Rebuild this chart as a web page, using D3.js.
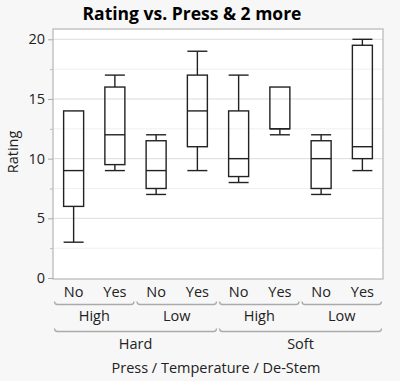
<!DOCTYPE html>
<html><head><meta charset="utf-8">
<script src="https://cdn.jsdelivr.net/npm/d3@7"></script>
<style>
html,body{margin:0;padding:0;background:#f7f7f7;}
svg{display:block;font-family:"Open Sans","Noto Sans",sans-serif;}
</style></head>
<body>
<svg id="c" width="400" height="381"></svg>
<script>
const press = ["Hard","Hard","Hard","Hard","Soft","Soft","Soft","Soft"];
const temperature = ["High","High","Low","Low","High","High","Low","Low"];
const destem = ["No","Yes","No","Yes","No","Yes","No","Yes"];
const whiskerLow = [3, 9, 7, 9, 8, 12, 7, 9];
const q1 = [6, 9.5, 7.5, 11, 8.5, 12.5, 7.5, 10];
const median = [9, 12, 9, 14, 10, 12.5, 10, 11];
const q3 = [14, 16, 11.5, 17, 14, 16, 11.5, 19.5];
const whiskerHigh = [14, 17, 12, 19, 17, 16, 12, 20];
const yTicks = [0, 5, 10, 15, 20];
const yMinor = [2.5, 7.5, 12.5, 17.5];

const svg = d3.select("#c");
const L = 53, R = 383, T = 29, B = 278;
const fs = 14.5;
const keys = destem.map((d,i)=>i);
const x = d3.scaleBand().domain(keys).range([L, R]).paddingInner(0).paddingOuter(0);
const y = d3.scaleLinear().domain([0, 20]).range([B, 39.3]);

// plot area
svg.append("rect").attr("x", L).attr("y", T).attr("width", R-L).attr("height", B+1-T)
  .attr("fill", "#fff");
// grid
svg.append("g").selectAll("line").data(yMinor).join("line")
  .attr("x1", L).attr("x2", R).attr("y1", d=>y(d)).attr("y2", d=>y(d))
  .attr("stroke", "#efefef").attr("stroke-width", 1);
svg.append("g").selectAll("line").data(yTicks.filter(d=>d>0)).join("line")
  .attr("x1", L).attr("x2", R).attr("y1", d=>y(d)).attr("y2", d=>y(d))
  .attr("stroke", "#dcdcdc").attr("stroke-width", 1);
// frame
svg.append("rect").attr("x", L).attr("y", T).attr("width", R-L).attr("height", B+1-T)
  .attr("fill", "none").attr("stroke", "#c4c4c4").attr("stroke-width", 1.5);

// y axis
const yAxis = d3.axisLeft(y).tickValues(yTicks).tickSize(5).tickPadding(3);
const ga = svg.append("g").attr("transform", `translate(${L},0)`).call(yAxis);
ga.select(".domain").remove();
ga.selectAll(".tick line").attr("stroke", "#aaa");
ga.selectAll(".tick text").attr("font-size", fs).attr("fill", "#222")
  .attr("font-family", '"Open Sans","Noto Sans",sans-serif');
const gm = svg.append("g").attr("transform", `translate(${L},0)`)
  .call(d3.axisLeft(y).tickValues(yMinor).tickSize(3).tickFormat(""));
gm.select(".domain").remove();
gm.selectAll(".tick line").attr("stroke", "#bbb");

// boxes
const bw = 20;
const g = svg.append("g").attr("stroke", "#222").attr("stroke-width", 1.4).attr("fill", "none");
keys.forEach(i => {
  const cx = x(i) + x.bandwidth()/2;
  const cap = 10;
  if (whiskerHigh[i] > q3[i]) {
    g.append("line").attr("x1", cx).attr("x2", cx).attr("y1", y(whiskerHigh[i])).attr("y2", y(q3[i]));
    g.append("line").attr("x1", cx-cap).attr("x2", cx+cap).attr("y1", y(whiskerHigh[i])).attr("y2", y(whiskerHigh[i]));
  }
  if (whiskerLow[i] < q1[i]) {
    g.append("line").attr("x1", cx).attr("x2", cx).attr("y1", y(q1[i])).attr("y2", y(whiskerLow[i]));
    g.append("line").attr("x1", cx-cap).attr("x2", cx+cap).attr("y1", y(whiskerLow[i])).attr("y2", y(whiskerLow[i]));
  }
  g.append("rect").attr("x", cx-bw/2).attr("y", y(q3[i])).attr("width", bw).attr("height", y(q1[i])-y(q3[i]));
  g.append("line").attr("x1", cx-bw/2).attr("x2", cx+bw/2).attr("y1", y(median[i])).attr("y2", y(median[i]));
});

// x labels, level 1
svg.append("g").selectAll("text").data(keys).join("text")
  .attr("x", i => x(i)+x.bandwidth()/2).attr("y", 292).attr("dy", "0.35em")
  .attr("text-anchor", "middle").attr("font-size", fs).attr("fill", "#222")
  .text(i => destem[i]);

function bracket(x0, x1, yy) {
  const a = x0 + 1.5, b = x1 - 1.5;
  return `M${a},${yy-3} Q${a},${yy} ${a+3},${yy} L${b-3},${yy} Q${b},${yy} ${b},${yy-3}`;
}
const tempGroups = d3.groups(keys, i => press[i] + "|" + temperature[i]).map(([k, idx]) => ({
  label: temperature[idx[0]], x0: x(idx[0]), x1: x(idx[idx.length-1]) + x.bandwidth()
}));
const pressGroups = d3.groups(keys, i => press[i]).map(([k, idx]) => ({
  label: k, x0: x(idx[0]), x1: x(idx[idx.length-1]) + x.bandwidth()
}));
svg.append("g").selectAll("path").data(tempGroups).join("path")
  .attr("d", d => bracket(d.x0, d.x1, 304.5)).attr("fill", "none").attr("stroke", "#aaa").attr("stroke-width", 1.3);
svg.append("g").selectAll("text").data(tempGroups).join("text")
  .attr("x", d => (d.x0+d.x1)/2).attr("y", 316).attr("dy", "0.35em")
  .attr("text-anchor", "middle").attr("font-size", fs).attr("fill", "#222").text(d => d.label);
svg.append("g").selectAll("path").data(pressGroups).join("path")
  .attr("d", d => bracket(d.x0, d.x1, 331.5)).attr("fill", "none").attr("stroke", "#aaa").attr("stroke-width", 1.3);
svg.append("g").selectAll("text").data(pressGroups).join("text")
  .attr("x", d => (d.x0+d.x1)/2).attr("y", 343.5).attr("dy", "0.35em")
  .attr("text-anchor", "middle").attr("font-size", fs).attr("fill", "#222").text(d => d.label);

svg.append("text").attr("x", 216).attr("y", 367.5).attr("dy", "0.35em")
  .attr("text-anchor", "middle").attr("font-size", fs).attr("fill", "#222")
  .text("Press / Temperature / De-Stem");

svg.append("text").attr("transform", "translate(13,152) rotate(-90)").attr("dy", "0.35em")
  .attr("text-anchor", "middle").attr("font-size", fs).attr("fill", "#222").text("Rating");

svg.append("text").attr("x", 192).attr("y", 14).attr("dy", "0.35em")
  .attr("text-anchor", "middle").attr("font-size", 17.5).attr("font-weight", "bold").attr("fill", "#000")
  .text("Rating vs. Press & 2 more");
</script>
</body></html>
